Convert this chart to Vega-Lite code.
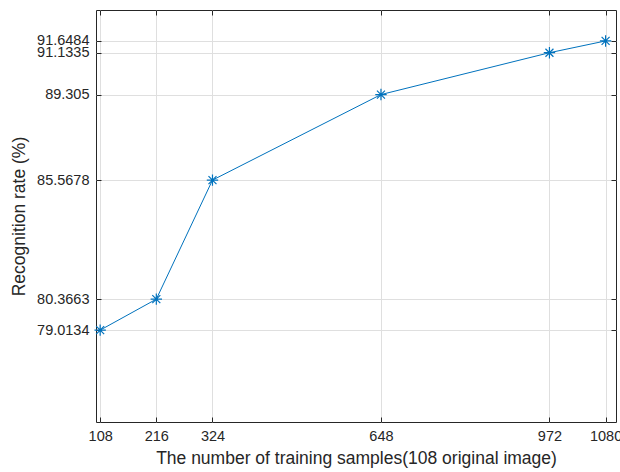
{
  "$schema": "https://vega.github.io/schema/vega-lite/v6.json",
  "width": 520,
  "height": 412,
  "autosize": {"type": "none"},
  "padding": {"left": 96, "top": 10, "right": 4, "bottom": 50},
  "background": "white",
  "config": {
    "font": "Liberation Sans",
    "view": {"stroke": "#262626", "strokeWidth": 1},
    "axis": {
      "domain": false,
      "grid": true,
      "gridColor": "#dfdfdf",
      "gridWidth": 1,
      "tickColor": "#262626",
      "tickSize": -5,
      "labelFont": "Liberation Sans",
      "labelFontSize": 14.5,
      "labelColor": "#262626",
      "titleFont": "Liberation Sans",
      "titleFontSize": 17.5,
      "titleFontWeight": "normal",
      "titleColor": "#262626"
    }
  },
  "data": {
    "values": [
      {"samples": 108, "rate": 79.0134},
      {"samples": 216, "rate": 80.3663},
      {"samples": 324, "rate": 85.5678},
      {"samples": 648, "rate": 89.305},
      {"samples": 972, "rate": 91.1335},
      {"samples": 1080, "rate": 91.6484}
    ]
  },
  "encoding": {
    "x": {
      "field": "samples",
      "type": "quantitative",
      "scale": {"domain": [100, 1100], "nice": false, "zero": false},
      "axis": null
    },
    "y": {
      "field": "rate",
      "type": "quantitative",
      "scale": {"domain": [75, 93], "nice": false, "zero": false},
      "axis": null
    }
  },
  "layer": [
    {
      "mark": {"type": "line", "color": "#0072BD", "strokeWidth": 1},
      "encoding": {
        "x": {
          "field": "samples",
          "type": "quantitative",
          "axis": {
            "orient": "bottom",
            "values": [108, 216, 324, 648, 972, 1080],
            "labelExpr": "datum.value",
            "labelPadding": 12,
            "title": "The number of training samples(108 original image)",
            "titlePadding": 7
          }
        },
        "y": {
          "field": "rate",
          "type": "quantitative",
          "axis": {
            "orient": "left",
            "values": [79.0134, 80.3663, 85.5678, 89.305, 91.1335, 91.6484],
            "labelExpr": "datum.value",
            "labelPadding": 12,
            "labelOverlap": false,
            "title": "Recognition rate (%)",
            "titlePadding": 8
          }
        }
      }
    },
    {
      "mark": {
        "type": "point",
        "shape": "M-1,0L1,0M0,-1L0,1M-0.7,-0.7L0.7,0.7M-0.7,0.7L0.7,-0.7",
        "filled": false,
        "color": "#0072BD",
        "strokeWidth": 1.2,
        "size": 130,
        "opacity": 1
      }
    },
    {
      "mark": {"type": "point", "opacity": 0},
      "encoding": {
        "x": {
          "field": "samples",
          "type": "quantitative",
          "axis": {
            "orient": "top",
            "values": [108, 216, 324, 648, 972, 1080],
            "labels": false,
            "grid": false,
            "title": null
          }
        },
        "y": {
          "field": "rate",
          "type": "quantitative",
          "axis": {
            "orient": "right",
            "values": [79.0134, 80.3663, 85.5678, 89.305, 91.1335, 91.6484],
            "labels": false,
            "grid": false,
            "title": null
          }
        }
      }
    }
  ],
  "resolve": {"axis": {"x": "independent", "y": "independent"}}
}
